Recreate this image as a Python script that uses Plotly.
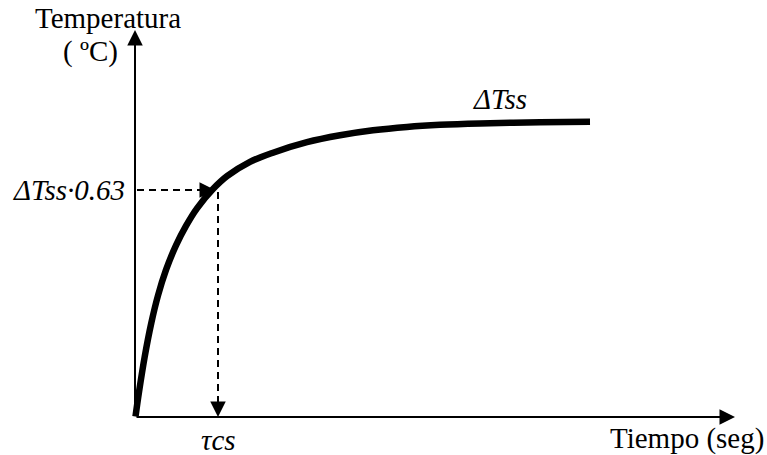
import plotly.graph_objects as go

# Step response of temperature: time (arbitrary units) vs temperature rise
t_curve = [0.05, 0.4, 0.97, 1.63, 2.3, 3.1, 4.1, 5.1, 6.2, 7.8, 9.2, 11.5, 13.8, 17.2,
           20.5, 23.8, 27.2, 30.5, 34.5, 40.5, 45.5]
temp_curve = [0.05, 2.5, 6.03, 9.4, 12.15, 14.71, 17.16, 19.11, 20.87, 22.79, 24.08, 25.51,
              26.43, 27.48, 28.17, 28.67, 29.01, 29.22, 29.36, 29.47, 29.52]

# Time constant and the 63 % level
tau_cs = 8.3
temp_63 = 22.7

# Axis extents (arrow tips)
x_axis_end = 60.0
y_axis_end = 38.7

# Text labels
y_title = ["Temperatura", "( ºC)"]
x_title = "Tiempo (seg)"
label_ss = "ΔTss"
label_63 = "ΔTss·0.63"
label_tau = "τcs"

FONT = "Liberation Serif, Times New Roman, DejaVu Serif, serif"

fig = go.Figure()

fig.add_trace(go.Scatter(
    x=t_curve, y=temp_curve, mode="lines",
    line=dict(color="black", width=6.5, shape="spline", smoothing=1.0),
    hoverinfo="skip", showlegend=False,
))

# Dashed guide lines
fig.add_shape(type="line", x0=0.2, y0=temp_63, x1=tau_cs - 1.5, y1=temp_63,
              line=dict(color="black", width=2, dash="7px,5px"))
fig.add_shape(type="line", x0=tau_cs, y0=temp_63 - 0.2, x1=tau_cs, y1=1.2,
              line=dict(color="black", width=2, dash="7px,5px"))


def arrow(x, y, ax, ay, width=2, size=1.55):
    fig.add_annotation(x=x, y=y, ax=ax, ay=ay, xref="x", yref="y",
                       axref="x", ayref="y", text="", showarrow=True,
                       arrowhead=2, arrowsize=size, arrowwidth=width,
                       arrowcolor="black", standoff=0)


# Axes with arrow heads
arrow(x_axis_end, 0, 0, 0)
arrow(0, y_axis_end, 0, 0)
# Arrow heads at the end of the dashed guides
arrow(tau_cs - 0.3, temp_63, tau_cs - 1.9, temp_63, width=2, size=1.55)
arrow(tau_cs, 0, tau_cs, 1.6, width=2, size=1.55)


def label(x, y, text, xanchor="center", yanchor="middle", italic=False):
    fig.add_annotation(x=x, y=y, xref="x", yref="y", text=f"<i>{text}</i>" if italic else text,
                       showarrow=False, xanchor=xanchor, yanchor=yanchor,
                       font=dict(family=FONT, size=29, color="black"))


label(-2.7, 39.9, y_title[0])
label(-4.5, 36.6, y_title[1])
label(-0.8, temp_63, label_63, xanchor="right", italic=True)
label(36.5, 31.8, label_ss, italic=True)
label(8.3, -2.3, label_tau, italic=True)
label(55.2, -2.1, x_title)

fig.update_xaxes(range=[-13.5, 63.2], visible=False, fixedrange=True)
fig.update_yaxes(range=[-3.8, 41.7], visible=False, fixedrange=True)
fig.update_layout(width=767, height=455, margin=dict(l=0, r=0, t=0, b=0),
                  paper_bgcolor="white", plot_bgcolor="white", showlegend=False)

fig.write_html("out.html")
